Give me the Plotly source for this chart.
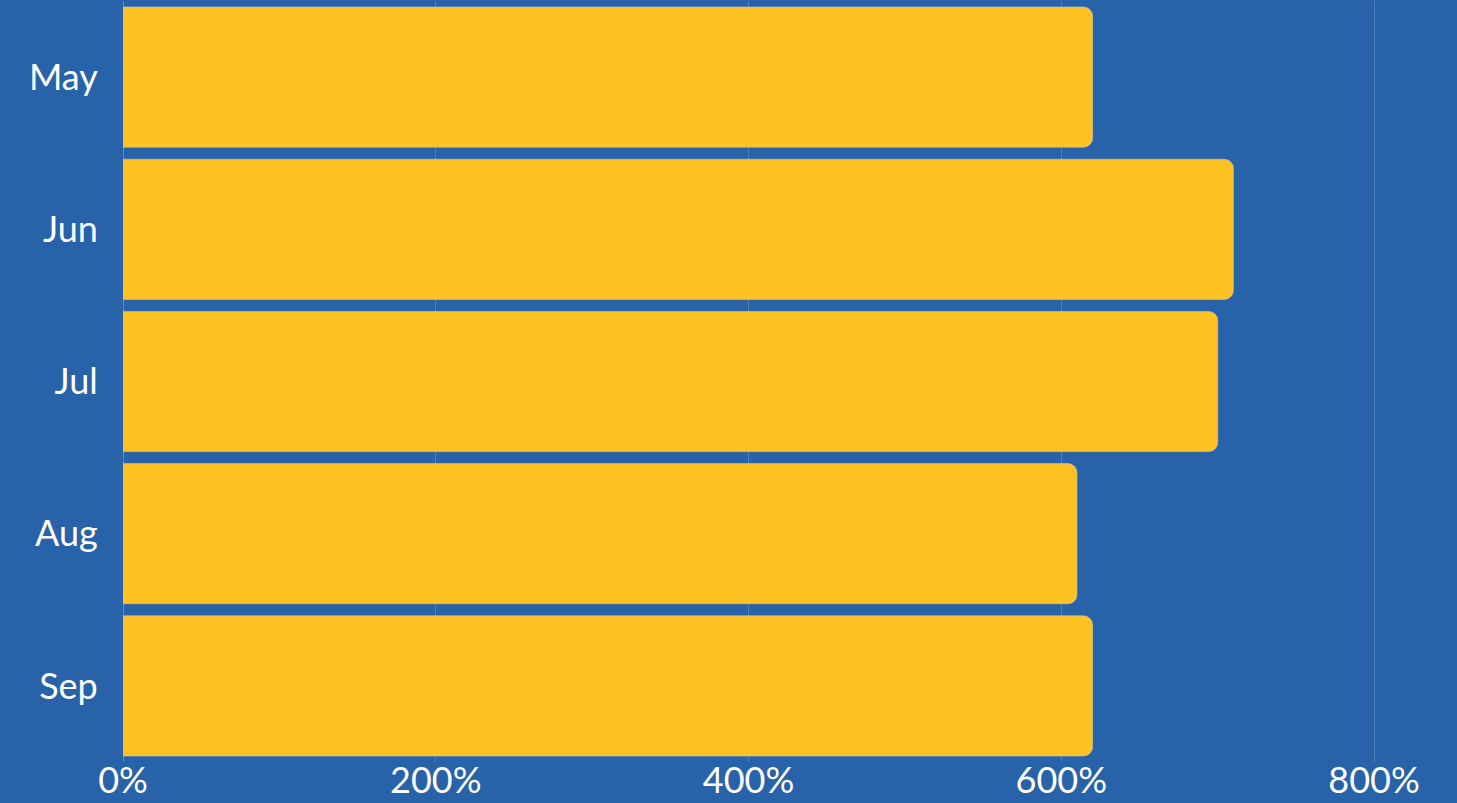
import plotly.graph_objects as go

months = ["May", "Jun", "Jul", "Aug", "Sep"]
values = [620, 710, 700, 610, 620]
tick_vals = [0, 200, 400, 600, 800]
tick_text = ["0%", "200%", "400%", "600%", "800%"]

BG = "#2862A8"
BAR = "#FFC222"

fig = go.Figure(go.Bar(
    y=months, x=values, orientation="h",
    marker=dict(color=BAR, cornerradius=9, line=dict(color="rgba(200,200,180,0.6)", width=1)),
    hoverinfo="skip",
))

fig.update_layout(
    width=1457, height=803,
    margin=dict(l=123, r=0, t=1, b=41),
    paper_bgcolor=BG, plot_bgcolor=BG,
    bargap=0.079,
    showlegend=False,
    font=dict(family="Lato, Noto Sans, sans-serif", color="white", size=36),
    xaxis=dict(range=[0, 853], tickvals=tick_vals, ticktext=tick_text,
               showgrid=True, gridcolor="rgba(255,255,255,0.18)", gridwidth=1,
               zeroline=True, zerolinecolor="rgba(255,255,255,0.25)", zerolinewidth=1,
               showline=False, ticks="", ticklabelstandoff=-6,
               automargin=False, fixedrange=True),
    yaxis=dict(autorange="reversed", showgrid=False, zeroline=False, showline=False,
               ticks="outside", ticklen=17, tickcolor="rgba(0,0,0,0)",
               automargin=False, fixedrange=True),
)

fig.write_html(
    "out.html",
    config={"displayModeBar": False},
    post_script="document.body.style.margin='0';document.body.style.background='#2862A8';document.documentElement.style.background='#2862A8';",
)
